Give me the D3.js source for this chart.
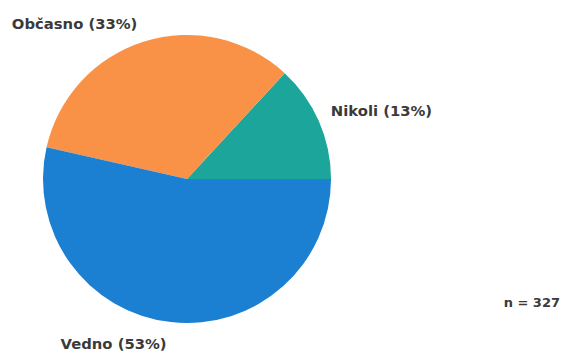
<!DOCTYPE html>
<html>
<head>
<meta charset="utf-8">
<script src="https://cdn.jsdelivr.net/npm/d3@7"></script>
<style>
  html, body { margin: 0; padding: 0; background: #fff; }
  svg { display: block; }
  text { font-family: "DejaVu Sans", sans-serif; font-weight: bold; fill: #3a3a3a; }
</style>
</head>
<body>
<svg id="chart" width="570" height="352"></svg>
<script>
// Answer categories and their shares (%)
const categories = ["Nikoli", "Občasno", "Vedno"];
const shares = [13, 33, 53];
const colors = ["#1ba59b", "#f99246", "#1b7fd2"];
const sampleSize = 327;

const width = 570, height = 352;
const cx = 187, cy = 179, radius = 144;

const svg = d3.select("#chart");
const g = svg.append("g").attr("transform", `translate(${cx},${cy})`);

// First slice starts at 3 o'clock and slices run counter-clockwise
const pie = d3.pie()
  .sort(null)
  .value(d => d.value)
  .startAngle(Math.PI / 2)
  .endAngle(Math.PI / 2 - 2 * Math.PI);

const data = categories.map((c, i) => ({ name: c, value: shares[i], color: colors[i] }));
const arcs = pie(data);

const arc = d3.arc().innerRadius(0).outerRadius(radius);

g.selectAll("path.slice")
  .data(arcs)
  .join("path")
  .attr("class", "slice")
  .attr("d", arc)
  .attr("fill", d => d.data.color);

// Category labels placed outside each slice's midpoint
const labelRadius = 157;
g.selectAll("text.label")
  .data(arcs)
  .join("text")
  .attr("class", "label")
  .each(function(d) {
    const a = (d.startAngle + d.endAngle) / 2; // d3 angle: 0 at top, clockwise
    const x = Math.sin(a) * labelRadius;
    const y = -Math.cos(a) * labelRadius;
    const below = y > radius * 0.6;
    d3.select(this)
      .attr("x", x - (x < 0 ? 3 : 0))
      .attr("y", below ? y + 14 : y)
      .attr("text-anchor", x >= 0 ? "start" : "end");
  })
  .style("font-size", "14.8px")
  .text(d => `${d.data.name} (${d.data.value}%)`);

svg.append("text")
  .attr("x", 560)
  .attr("y", 307)
  .attr("text-anchor", "end")
  .style("font-size", "13px")
  .text(`n = ${sampleSize}`);
</script>
</body>
</html>
